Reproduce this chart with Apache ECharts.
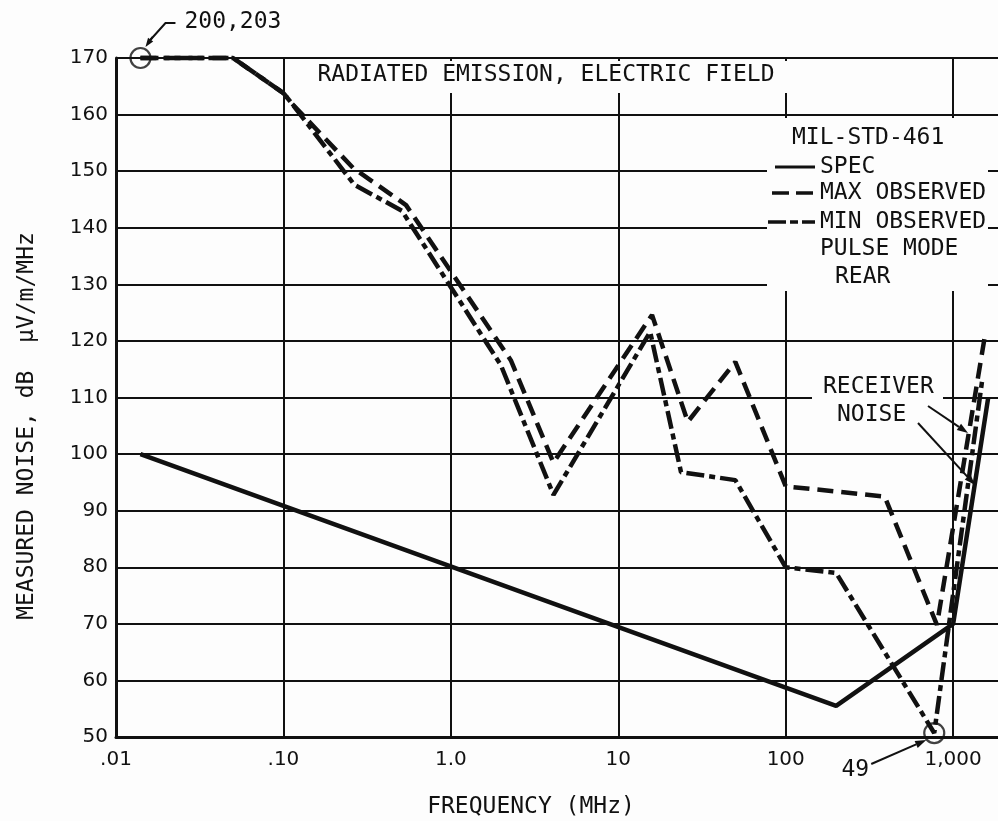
<!DOCTYPE html>
<html><head><meta charset="utf-8">
<script src="https://cdn.jsdelivr.net/npm/echarts@6/dist/echarts.min.js"></script>
<style>html,body{margin:0;padding:0;background:#fdfdfd;overflow:hidden}#c{width:1004px;height:821px}</style>
</head><body><div id="c"></div>
<script>
// ---- data ----
const xTickValues = [0.01, 0.1, 1, 10, 100, 1000];
const xTickLabels = ['.01', '.10', '1.0', '10', '100', '1,000'];
const xMin = 0.01, xMax = 1931;
const yMin = 50, yMax = 170, yStep = 10;

const specFreq  = [0.014, 200, 1000, 1620];
const specLevel = [100, 55.5, 70, 110];

const maxFreq  = [0.014, 0.05, 0.1, 0.112, 0.26, 0.54, 2.28, 4.1, 15.9, 26, 50, 100, 390, 800, 1540];
const maxLevel = [170, 170, 163.8, 162, 150.6, 144, 116.6, 98.5, 124.6, 105.7, 116.3, 94.3, 92.5, 69.8, 120.5];

const minFreq  = [0.014, 0.05, 0.1, 0.112, 0.265, 0.51, 1.99, 4.1, 15.5, 23.7, 50, 100, 200, 771, 1490];
const minLevel = [170, 170, 163.8, 162, 147.6, 143, 115.7, 92.8, 121.6, 96.8, 95.4, 80, 79, 50.7, 113];

const markFreq  = [0.014, 771];
const markLevel = [170, 50.7];
const markText  = ['200,203', '49'];

const titleText = 'RADIATED EMISSION, ELECTRIC FIELD';
const legendHead = 'MIL-STD-461';
const legendNames = ['SPEC', 'MAX OBSERVED', 'MIN OBSERVED'];
const legendNote = ['PULSE MODE', 'REAR'];
const noiseText = ['RECEIVER', 'NOISE'];
const xName = 'FREQUENCY (MHz)';
const yName = 'MEASURED NOISE, dB  \u03bcV/m/MHz';

// ---- styles ----
const INK = '#111';
const MONO = '23px "DejaVu Sans Mono", monospace';
const maxDash = [16, 8];
const minDash = [18, 5, 6, 5];

const zip = (a, b) => a.map((v, i) => [v, b[i]]);
const chart = echarts.init(document.getElementById('c'), null, {renderer: 'canvas'});

chart.setOption({
  backgroundColor: '#fdfdfd',
  animation: false,
  grid: {left: 116, right: 0, top: 58, bottom: 84},
  xAxis: {
    type: 'log', logBase: 10, min: xMin, max: xMax,
    axisLine: {show: true, lineStyle: {color: INK, width: 3}},
    axisTick: {show: false},
    splitLine: {show: true, showMaxLine: false, lineStyle: {color: INK, width: 2}},
    axisLabel: {
      color: INK, fontFamily: 'DejaVu Sans', fontSize: 20, margin: 13,
      formatter: v => {
        const k = xTickValues.findIndex(t => Math.abs(Math.log10(v) - Math.log10(t)) < 1e-6);
        return k >= 0 ? xTickLabels[k] : '';
      }
    }
  },
  yAxis: {
    type: 'value', min: yMin, max: yMax, interval: yStep,
    axisLine: {show: true, lineStyle: {color: INK, width: 3}},
    axisTick: {show: false},
    splitLine: {show: true, lineStyle: {color: INK, width: 2}},
    axisLabel: {color: INK, fontFamily: 'DejaVu Sans', fontSize: 20, margin: 8}
  },
  series: [
    {name: 'SPEC', type: 'line', data: zip(specFreq, specLevel), showSymbol: false, clip: false, z: 3,
     lineStyle: {color: INK, width: 4.5, type: 'solid'}},
    {name: 'MAX OBSERVED', type: 'line', data: zip(maxFreq, maxLevel), showSymbol: false, clip: false, z: 3,
     lineStyle: {color: INK, width: 4.5, type: maxDash}},
    {name: 'MIN OBSERVED', type: 'line', data: zip(minFreq, minLevel), showSymbol: false, clip: false, z: 3,
     lineStyle: {color: INK, width: 4.5, type: minDash}},
    {name: 'marks', type: 'scatter', data: zip(markFreq, markLevel), symbol: 'circle', symbolSize: 20, clip: false, z: 4,
     itemStyle: {color: 'rgba(0,0,0,0)', borderColor: INK, borderWidth: 2.2}}
  ]
});

function txt(x, y, text, align, extra) {
  return Object.assign({type: 'text', z: 10, x: x, y: y,
    style: {x: 0, y: 0, text: text, font: MONO, fill: INK, align: align || 'left', verticalAlign: 'middle'}}, extra || {});
}
function box(x, y, w, h) {
  return {type: 'rect', z: 1, shape: {x: x, y: y, width: w, height: h}, style: {fill: '#fdfdfd'}};
}
function seg(x1, y1, x2, y2, w, dash) {
  return {type: 'line', z: 10, shape: {x1: x1, y1: y1, x2: x2, y2: y2},
    style: {stroke: INK, lineWidth: w || 2, lineDash: dash || null}};
}
function arrow(x1, y1, x2, y2, head) {
  head = head || 10;
  const a = Math.atan2(y2 - y1, x2 - x1), c = Math.cos(a), s = Math.sin(a), hw = head * 0.35;
  const bx = x2 - head * c, by = y2 - head * s;
  return [seg(x1, y1, bx, by, 2),
    {type: 'polygon', z: 10, shape: {points: [[x2, y2], [bx + hw * s, by - hw * c], [bx - hw * s, by + hw * c]]},
     style: {fill: INK}}];
}

const m0 = chart.convertToPixel({xAxisIndex: 0, yAxisIndex: 0}, [markFreq[0], markLevel[0]]);
const m1 = chart.convertToPixel({xAxisIndex: 0, yAxisIndex: 0}, [markFreq[1], markLevel[1]]);

const g = [];
// white boxes that interrupt the grid
g.push(box(300, 61, 500, 32));
g.push(box(767, 118, 221, 173));
g.push(box(812, 371, 131, 60));
// title
g.push(txt(546, 75, titleText, 'center'));
// legend
g.push(txt(792, 138, legendHead));
g.push(seg(775, 167, 815, 167, 3));
g.push(txt(820, 167, legendNames[0]));
g.push(seg(772, 193, 815, 193, 3.5, [17, 7]));
g.push(txt(820, 193, legendNames[1]));
g.push(seg(768, 222, 815, 222, 3.5, [18, 4, 8, 4]));
g.push(txt(820, 222, legendNames[2]));
g.push(txt(820, 249, legendNote[0]));
g.push(txt(835, 277, legendNote[1]));
// receiver noise
g.push(txt(823, 387, noiseText[0]));
g.push(txt(837, 415, noiseText[1]));
g.push(...arrow(928, 406, 968, 433, 11));
g.push(...arrow(918, 423, 975, 485, 11));
// off-scale annotations
g.push(txt(m0[0] + 44, m0[1] - 36, markText[0]));
g.push({type: 'polyline', z: 10, shape: {points: [[m0[0] + 35, m0[1] - 35], [m0[0] + 25, m0[1] - 35], [m0[0] + 8, m0[1] - 16]]},
  style: {stroke: INK, lineWidth: 2, fill: null}});
g.push(...arrow(m0[0] + 12, m0[1] - 21, m0[0] + 5, m0[1] - 11, 9));
g.push(txt(m1[0] - 79, m1[1] + 37, markText[1], 'center'));
g.push(...arrow(m1[0] - 63, m1[1] + 31, m1[0] - 8, m1[1] + 7, 11));
// axis titles
g.push(txt(531, 807, xName, 'center'));
g.push(txt(27, 426, yName, 'center', {rotation: Math.PI / 2}));

chart.setOption({graphic: {elements: g}});
</script></body></html>
